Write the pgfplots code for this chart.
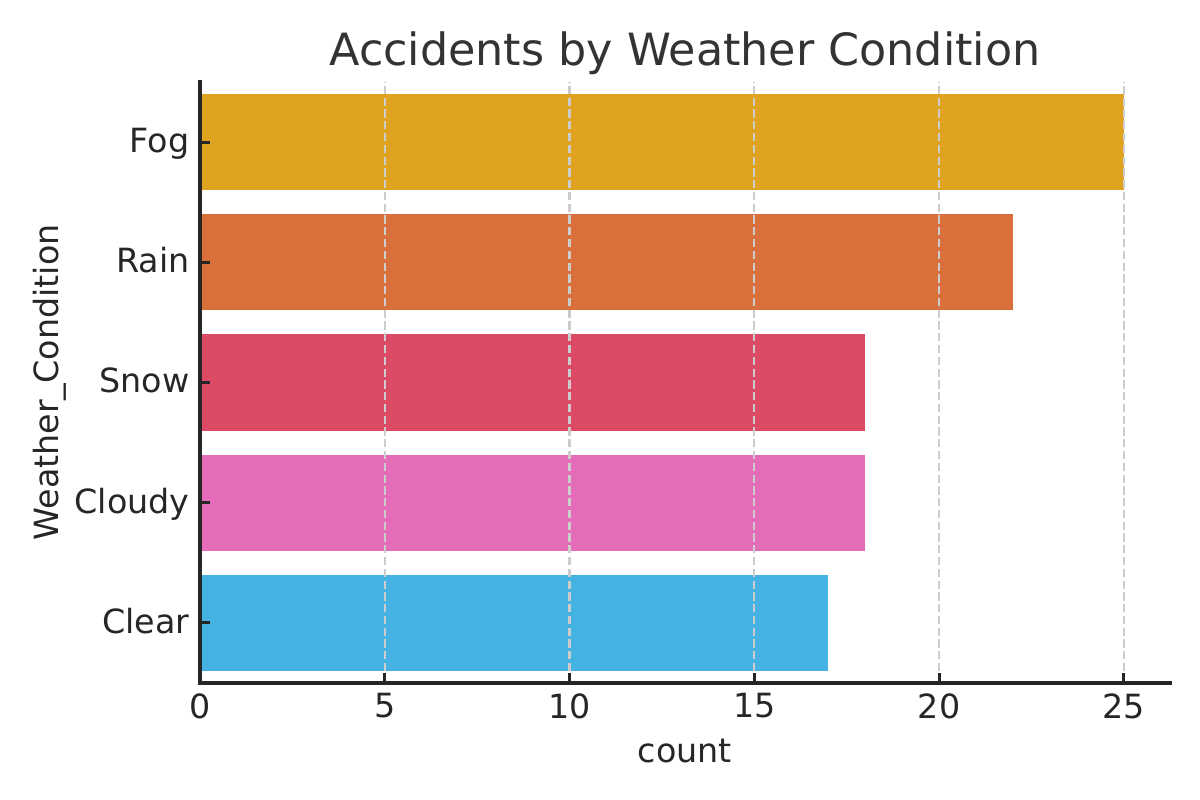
\documentclass[border=0pt]{standalone}
\usepackage{fontspec}
\setmainfont{DejaVu Sans}
\usepackage{pgfplots}
\pgfplotsset{compat=1.18}
\definecolor{cfog}{HTML}{E0A320}
\definecolor{crain}{HTML}{D9703B}
\definecolor{csnow}{HTML}{DD4A66}
\definecolor{ccloudy}{HTML}{E46CB8}
\definecolor{cclear}{HTML}{44B2E2}
\definecolor{txt}{HTML}{262626}
\definecolor{ttl}{HTML}{333333}
\definecolor{gridc}{HTML}{CCCCCC}
\begin{document}
\begin{tikzpicture}
\useasboundingbox (-72pt,-42.12pt) rectangle (360pt,245.88pt);
\begin{axis}[
  xbar, bar width=0.8, bar shift=0pt,
  name=ax,
  at={(0,0)}, anchor=south west,
  scale only axis, width=349.2pt, height=216.36pt,
  xmin=0, xmax=26.25, ymin=-0.5, ymax=4.5,
  xtick={0,5,10,15,20,25},
  ytick={0,1,2,3,4},
  yticklabels={Clear,Cloudy,Snow,Rain,Fog},
  axis line style={draw=none},
  xtick pos=bottom, ytick pos=left,
  xtick align=inside, ytick align=inside,
  major tick length=3.6pt,
  tick style={line width=1.1pt, color=txt},
  xmajorgrids,
  major grid style={gridc, line width=0.8pt, dash pattern=on 2.96pt off 1.28pt},
  axis on top,
  /pgf/number format/assume math mode=true,
  ticklabel style={font=\fontsize{12}{14}\selectfont, text=txt},
  xticklabel style={anchor=north, inner sep=0pt, yshift=-3.6pt},
  yticklabel style={anchor=mid east, inner sep=0pt, xshift=-3.6pt, yshift=-1pt},
  xlabel={count},
  ylabel={Weather\_Condition},
  label style={font=\fontsize{12}{14}\selectfont, text=txt},
  xlabel style={at={(axis description cs:0.5,-0.133)}, anchor=base, inner sep=0pt},
  ylabel style={at={(axis description cs:-0.146,0.5)}, anchor=base, inner sep=0pt},
  every axis title shift=0pt,
  title={Accidents by Weather Condition},
  title style={at={(axis description cs:0.5,1.028)}, anchor=base, inner sep=0pt, font=\fontsize{16}{19}\selectfont, text=ttl},
  every axis plot/.append style={draw=none},
]
\addplot[fill=cclear] coordinates {(17,0)};
\addplot[fill=ccloudy] coordinates {(18,1)};
\addplot[fill=csnow] coordinates {(18,2)};
\addplot[fill=crain] coordinates {(22,3)};
\addplot[fill=cfog] coordinates {(25,4)};
\end{axis}
\draw[txt, line width=1.1pt, line cap=rect] (ax.north west) -- (ax.south west) -- (ax.south east);
\end{tikzpicture}
\end{document}
